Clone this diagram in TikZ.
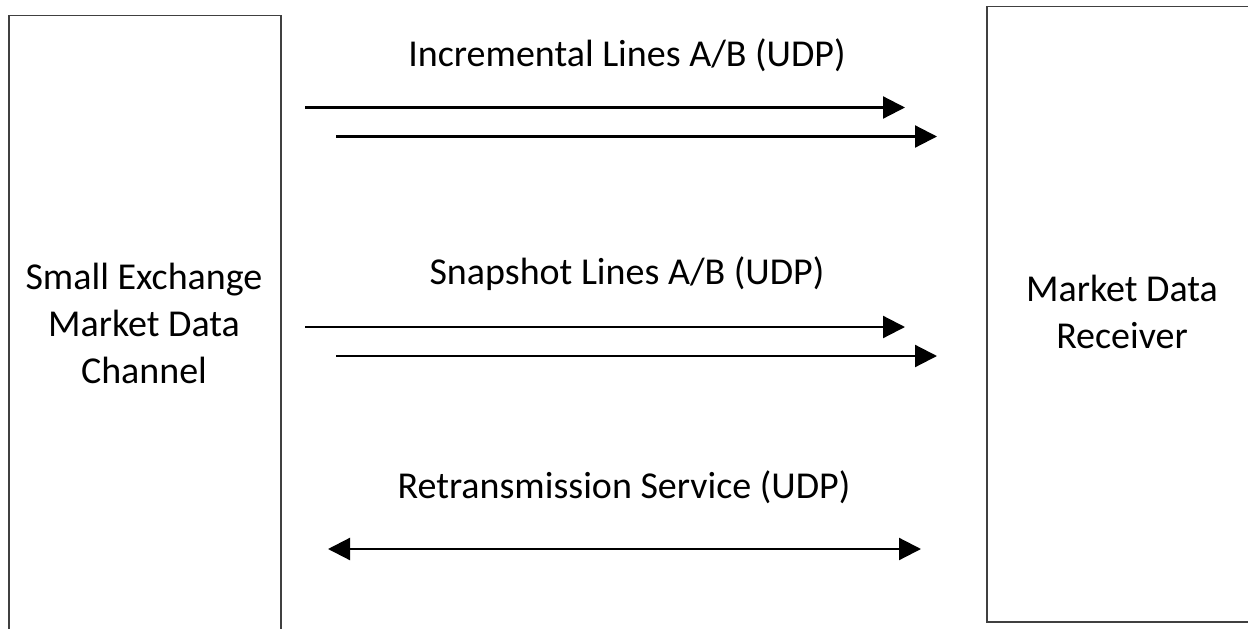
\documentclass[tikz,border=0pt]{standalone}
\usepackage{fontspec}
\setmainfont{Carlito}
\usetikzlibrary{arrows.meta}

\begin{document}
\begin{tikzpicture}[x=1pt, y=-1pt, >={Triangle[length=22pt,width=22pt]},
    box/.style={draw=black!75, line width=1.6pt, inner sep=0pt},
    line/.style={line width=2.2pt},
    lbl/.style={font=\fontsize{38}{46.7}\selectfont, align=center, anchor=base}]
  \useasboundingbox (0, 0) rectangle (1248, 629);
  \clip (0, 0) rectangle (1248, 629);
  % the two end points
  \node[box, minimum width=272pt, minimum height=664pt] (chan) at (145, 347.5) {};
  \node[box, minimum width=303pt, minimum height=615.5pt] (recv) at (1138.5, 314.25) {};
  \node[lbl] (chantxt) at (144, 383) {Small Exchange\\Market Data\\Channel};
  \node[lbl] (recvtxt) at (1122, 348) {Market Data\\Receiver};
  % line labels
  \node[lbl] (incr) at (627, 66) {Incremental Lines A/B (UDP)};
  \node[lbl] (snap) at (627, 284.5) {Snapshot Lines A/B (UDP)};
  \node[lbl] (retr) at (624, 498) {Retransmission Service (UDP)};
  % incremental A/B
  \draw[line, ->] (305, 107.5) coordinate (incrA) -- (905, 107.5) coordinate (incrAend);
  \draw[line, ->] (336, 136.5) coordinate (incrB) -- (937, 136.5) coordinate (incrBend);
  % snapshot A/B
  \draw[line, ->] (305, 327) coordinate (snapA) -- (905, 327) coordinate (snapAend);
  \draw[line, ->] (336, 356) coordinate (snapB) -- (937, 356) coordinate (snapBend);
  % retransmission
  \draw[line, <->] (328, 549) coordinate (retrA) -- (921, 549) coordinate (retrB);
\end{tikzpicture}
\end{document}
